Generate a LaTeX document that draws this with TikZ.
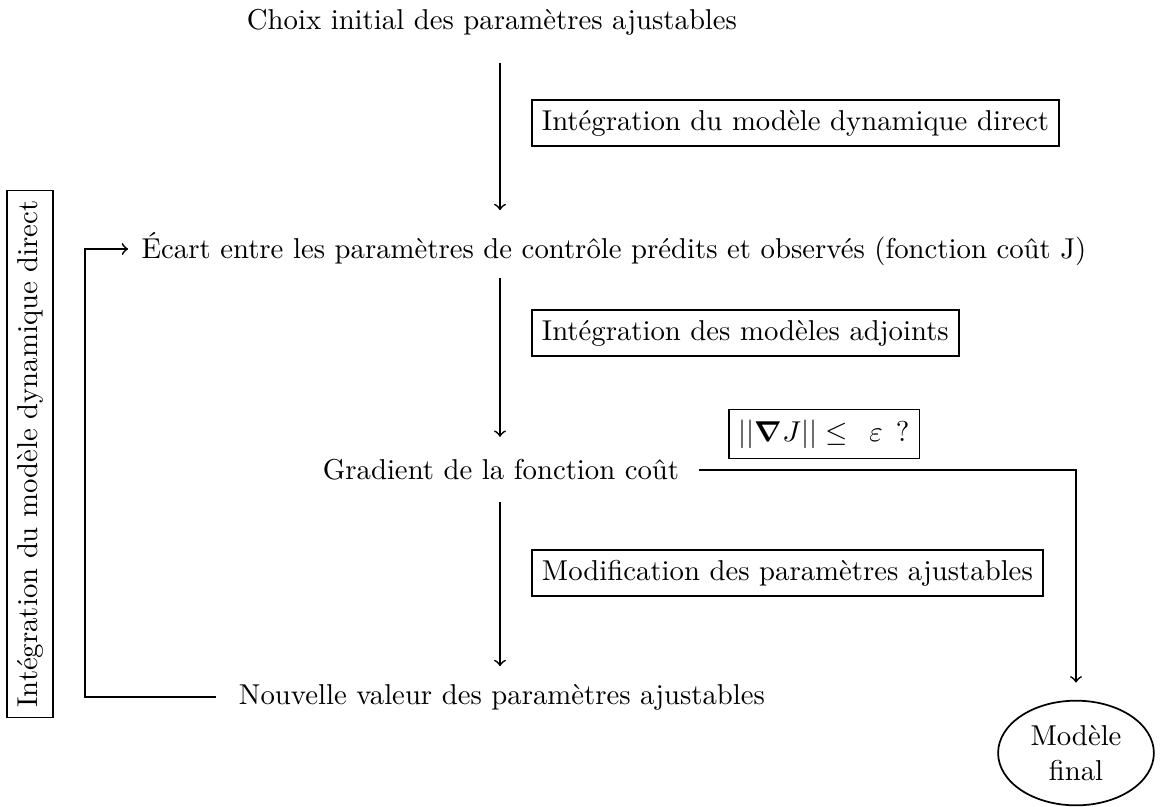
\documentclass[tikz,border=0pt]{standalone}
\usepackage{bm}
\usetikzlibrary{shapes.geometric,calc}
\begin{document}
\begin{tikzpicture}[x=0.348pt,y=-0.348pt,
 txt/.style={inner sep=0pt},
 lab/.style={draw,semithick,inner sep=3.5pt},
 flow/.style={->,semithick}]
\useasboundingbox (0,0) rectangle (1164,806);
\coordinate (ax) at (500,0);
\coordinate (lx) at (85,0);
\coordinate (rx) at (1076,0);
\node[txt] (top) at (492,22) {Choix initial des paramètres ajustables};
\node[txt] (ecart) at (614,249) {Écart entre les paramètres de contrôle prédits et observés (fonction coût J)};
\node[txt] (grad) at (501,470) {Gradient de la fonction coût};
\node[txt] (nouv) at (502,697) {Nouvelle valeur des paramètres ajustables};
\node[lab,anchor=west] (b1) at (531,123) {Intégration du modèle dynamique direct};
\node[lab,anchor=west] (b2) at (531,333) {Intégration des modèles adjoints};
\node[lab,anchor=west] (eps) at (728,434) {$||\bm{\nabla} J|| \leq\hspace{4.9pt}\varepsilon$\hspace{4.5pt}?};
\node[lab,anchor=west] (b3) at (531,573) {Modification des paramètres ajustables};
\node[lab,rotate=90] (side) at (30,454) {Intégration du modèle dynamique direct};
\node[draw,semithick,ellipse,align=center] (final) at (1076,753) {Modèle\\final};
\draw[flow,shorten <=9.5pt,shorten >=7.5pt] (ax |- top.south) -- (ax |- ecart.north);
\draw[flow,shorten <=4pt,shorten >=7.7pt] (ax |- ecart.south) -- (ax |- grad.north);
\draw[flow,shorten <=7.3pt,shorten >=6pt] (ax |- grad.south) -- (ax |- nouv.north);
\draw[flow,shorten <=6.6pt,shorten >=6pt] (grad.east) -- (rx |- grad.east) -- (final.north);
\draw[flow,shorten <=7.7pt,shorten >=4.5pt] (nouv.west) -- (lx |- nouv.west) -- (lx |- ecart.west) -- (ecart.west);
\end{tikzpicture}
\end{document}
